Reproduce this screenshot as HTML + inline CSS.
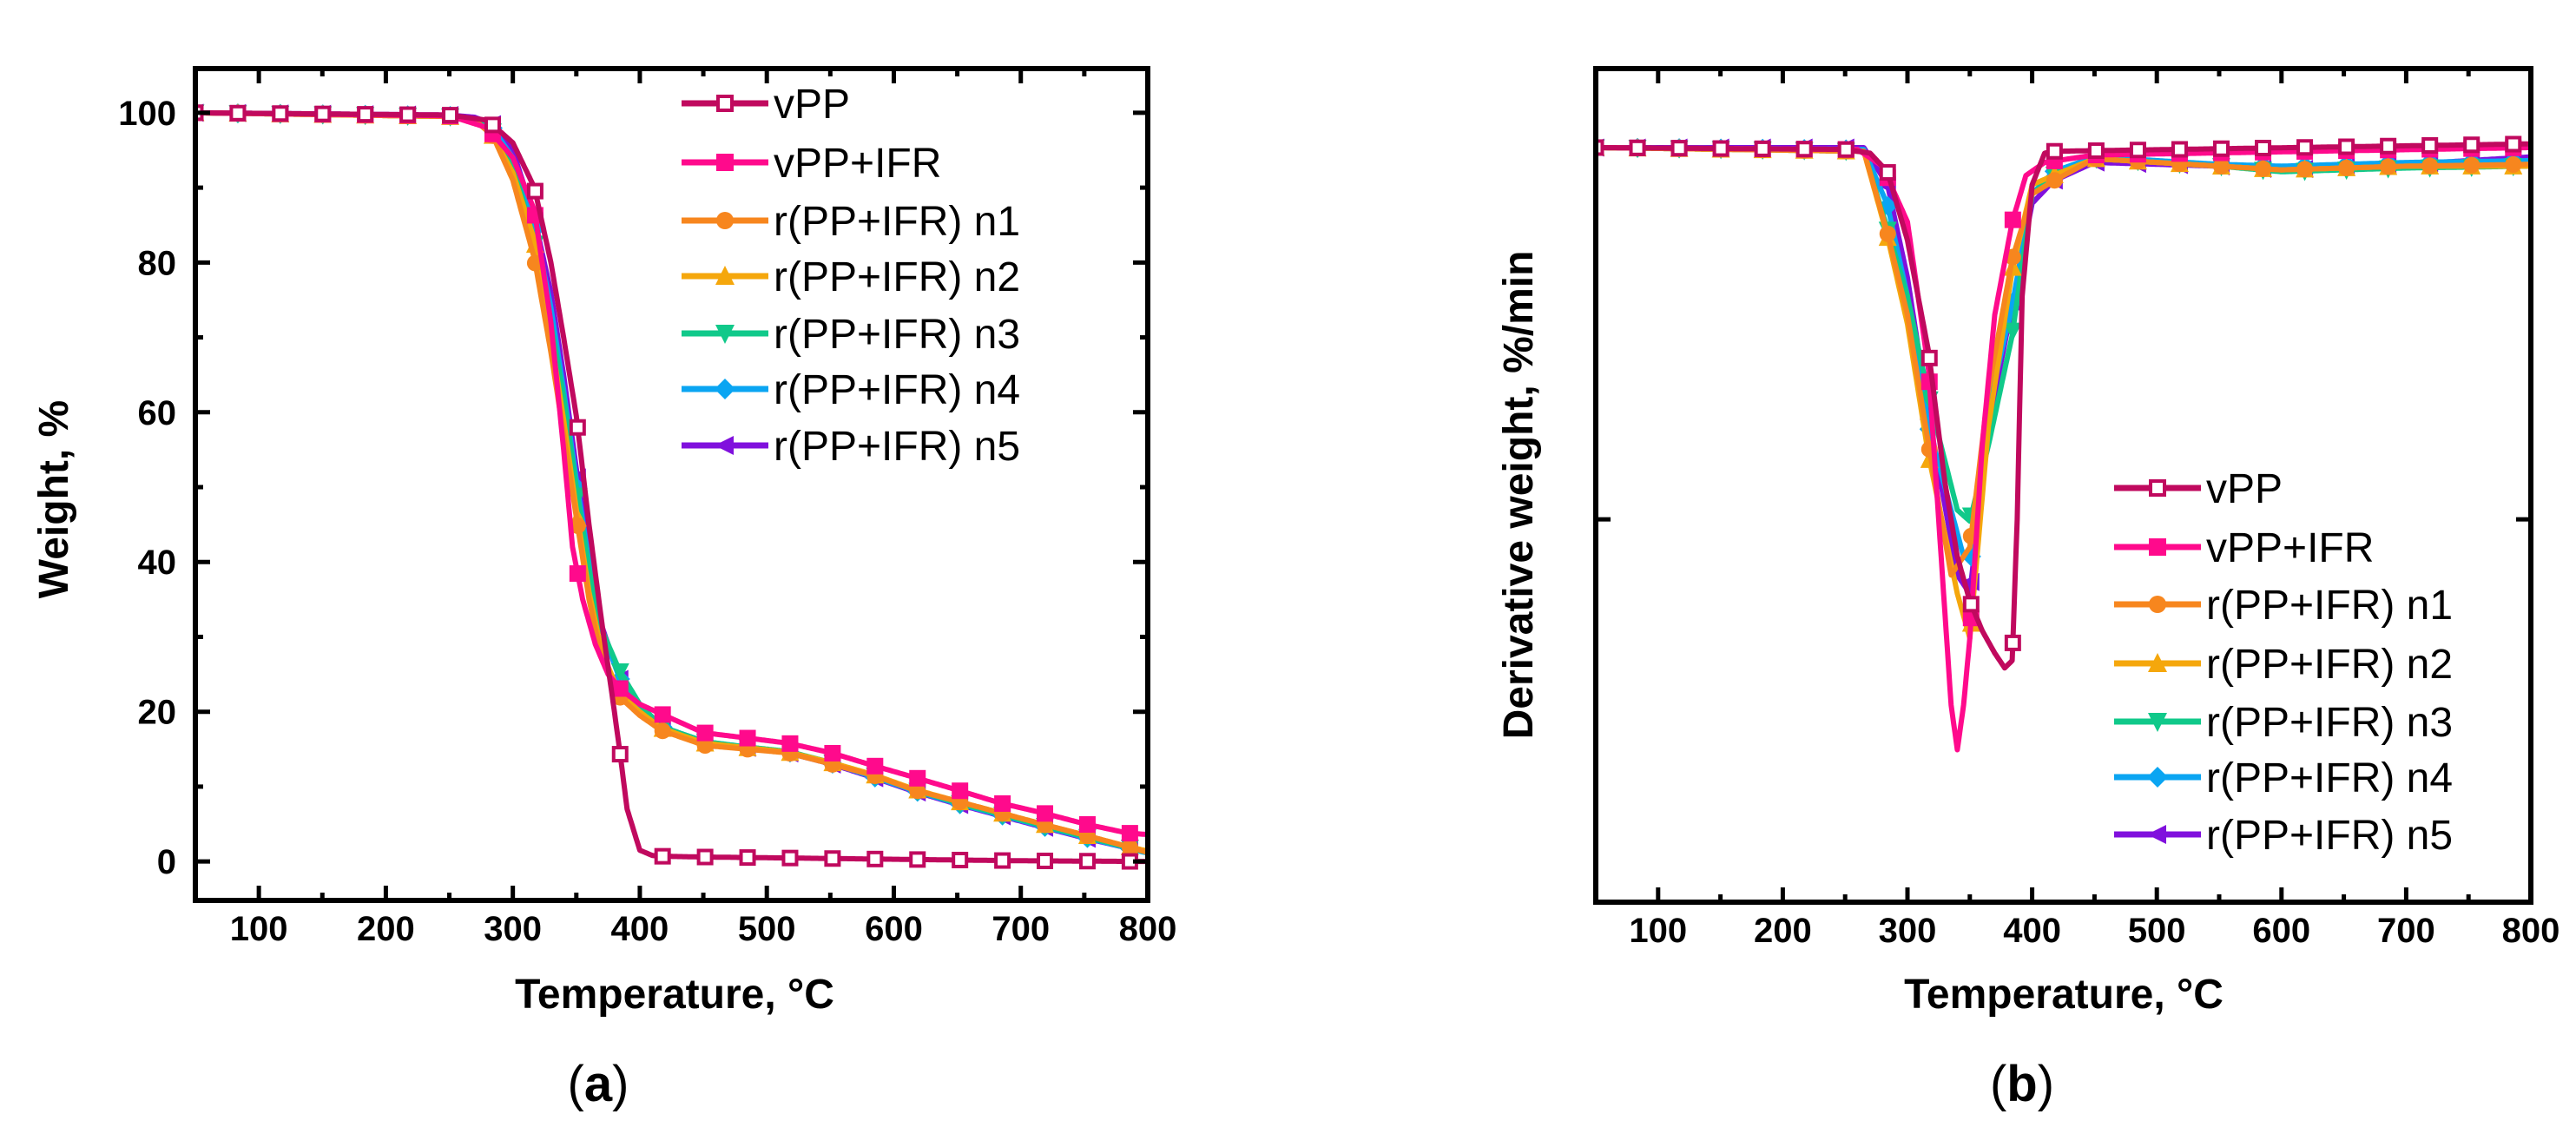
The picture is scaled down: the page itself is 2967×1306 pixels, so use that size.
<!DOCTYPE html>
<html><head><meta charset="utf-8">
<style>
html,body{margin:0;padding:0;background:#fff;}
svg{display:block;}
text{font-family:"Liberation Sans",Arial,sans-serif;}
</style></head>
<body>
<svg id="fig" width="2967" height="1306" viewBox="0 0 2967 1306" xmlns="http://www.w3.org/2000/svg">
<rect width="2967" height="1306" fill="#fff"/>
</svg>
<script>
// ---------- data ----------
const seriesNames = ["vPP","vPP+IFR","r(PP+IFR) n1","r(PP+IFR) n2","r(PP+IFR) n3","r(PP+IFR) n4","r(PP+IFR) n5"];
const seriesColors = ["#C0095E","#FF0A8C","#F7861E","#F5A70C","#10C98A","#0AA5F2","#8010DD"];
const seriesMarkers = ["sq-open","sq","circle","tri-up","tri-down","diamond","tri-left"];
const xTicks = [100,200,300,400,500,600,700,800];
const yTicksA = [0,20,40,60,80,100];

// TGA (weight %) : temperature / value pairs
const tgaT0 = [50,250,280,300,317,330,340,350,360,370,380,384,390,400,410,417,450,500,600,700,800];
const tgaW0 = [100,99.7,99,96,90,80,70,59.5,45,32,20,15,7,1.5,0.8,0.7,0.6,0.5,0.3,0.1,0];
const tgaT1 = [50,250,280,300,317,330,340,347,355,365,375,385,400,417,450,484,517,551,584,617,651,684,717,751,784,800];
const tgaW1 = [100,99.6,98,94,87,72,55,42,35,29,25,23,21,19.7,17.2,16.5,15.8,14.5,12.8,11.2,9.5,7.8,6.5,5,3.8,3.6];
const tgaT2 = [50,250,270,284,300,317,330,340,350,360,370,384,400,417,451,484,517,551,584,617,651,684,717,751,784,800];
const tgaW2 = [100,99.5,99,97,91,80.5,68,57,46,35,27,22,19.5,17.5,15.5,15,14.5,13,11.5,9.5,8,6.5,5,3.5,2,1.2];
const tgaW3 = [100,99.5,99,97,92,83,70,59,47,36,28,22.5,20,17.8,15.8,15.2,14.6,13.2,11.6,9.6,8,6.5,5,3.5,2,1.4];
const tgaW4 = [100,99.5,99,97.5,93,83,72,62,50,39,31,25.5,21,18,16,15.3,14.7,13.2,11.5,9.5,7.8,6.3,4.8,3.3,1.9,1.2];
const tgaW5 = [100,99.6,99.2,98,94,85,74,63,51,40,31,24.5,20.5,18,16,15.3,14.6,13.1,11.3,9.4,7.7,6.2,4.7,3.2,1.8,1.1];
const tgaW6 = [100,99.7,99.4,98.5,95,86,76,65,52.5,41,31.5,24.5,20.5,18,16,15.2,14.5,13,11.2,9.3,7.6,6.1,4.6,3.1,1.8,1.2];

// DTG (derivative weight, arbitrary) : temperature / value pairs
const dtgT0 = [50,250,270,284,300,317,330,340,350,360,370,378,384,388,392,400,410,417,800];
const dtgV0 = [0,-0.1,-0.3,-1.3,-5,-11,-18,-22,-24.4,-26,-27.2,-28,-27.6,-20,-8,-2,-0.3,-0.2,0.2];
const dtgT1 = [50,260,280,300,317,327,335,340,345,350,360,370,384,395,410,450,800];
const dtgV1 = [0,-0.1,-1,-4,-12,-22,-30,-32.4,-30,-26.4,-16,-9,-4,-1.5,-0.8,-0.4,0];
const dtgT2 = [50,265,284,300,317,335,350,365,384,400,417,450,550,600,700,800];
const dtgV2 = [0,-0.2,-4.6,-9,-16,-23,-21.5,-13,-6,-2.5,-1.8,-0.6,-1,-1.2,-1,-0.9];
const dtgT3 = [50,265,284,300,317,340,350,365,384,400,417,450,550,600,700,800];
const dtgV3 = [0,-0.2,-4.8,-9.5,-16.6,-24,-26.4,-15,-6.6,-2,-1.5,-0.6,-1,-1.2,-1,-1];
const dtgT4 = [50,265,284,300,317,340,350,365,384,400,417,450,550,600,700,800];
const dtgV4 = [0,-0.2,-4.4,-8,-13.4,-19.5,-20.1,-16,-10.1,-2.5,-1.5,-0.6,-1,-1.3,-1.1,-1];
const dtgT5 = [50,265,284,300,317,345,352,365,384,400,417,450,550,600,700,800];
const dtgV5 = [0,-0.1,-3.1,-8,-15,-22,-22,-14,-8.5,-2.5,-1.3,-0.5,-0.9,-1,-0.8,-0.7];
const dtgT6 = [50,265,284,300,317,340,350,365,384,400,417,450,550,600,700,800];
const dtgV6 = [0,0,-2,-7,-14.4,-23,-24,-15,-8.5,-3,-1.8,-0.8,-1,-1.2,-0.9,-0.5];

const tgaSets = [[tgaT0,tgaW0],[tgaT1,tgaW1],[tgaT2,tgaW2],[tgaT2,tgaW3],[tgaT2,tgaW4],[tgaT2,tgaW5],[tgaT2,tgaW6]];
const dtgSets = [[dtgT0,dtgV0],[dtgT1,dtgV1],[dtgT2,dtgV2],[dtgT3,dtgV3],[dtgT4,dtgV4],[dtgT5,dtgV5],[dtgT6,dtgV6]];

// ---------- helpers ----------
const NS = "http://www.w3.org/2000/svg";
const svg = document.getElementById("fig");
function mk(tag, attrs, parent){
  const e = document.createElementNS(NS, tag);
  for (const k in attrs) e.setAttribute(k, attrs[k]);
  (parent||svg).appendChild(e);
  return e;
}
function interp(T, V, t){
  if (t <= T[0]) return V[0];
  for (let i=1;i<T.length;i++){
    if (t <= T[i]){ const f=(t-T[i-1])/(T[i]-T[i-1]); return V[i-1]+f*(V[i]-V[i-1]); }
  }
  return V[V.length-1];
}
function marker(g, type, cx, cy, color, s){
  const h = s/2; let e;
  if (type==="sq-open") e = mk("rect",{x:cx-h+2,y:cy-h+2,width:s-4,height:s-4,fill:"#fff",stroke:color,"stroke-width":4},g);
  else if (type==="sq") e = mk("rect",{x:cx-h,y:cy-h,width:s,height:s,fill:color},g);
  else if (type==="circle") e = mk("circle",{cx:cx,cy:cy,r:h,fill:color},g);
  else if (type==="tri-up") e = mk("polygon",{points:`${cx},${cy-h-2} ${cx+h+1},${cy+h} ${cx-h-1},${cy+h}`,fill:color},g);
  else if (type==="tri-down") e = mk("polygon",{points:`${cx},${cy+h+2} ${cx+h+1},${cy-h} ${cx-h-1},${cy-h}`,fill:color},g);
  else if (type==="diamond") e = mk("polygon",{points:`${cx},${cy-h-2} ${cx+h+2},${cy} ${cx},${cy+h+2} ${cx-h-2},${cy}`,fill:color},g);
  else e = mk("polygon",{points:`${cx-h-2},${cy} ${cx+h},${cy-h-1} ${cx+h},${cy+h+1}`,fill:color},g);
  
  
  return e;
}

function drawPanel(p){
  const {L,R,T,B,xmin,xmax,ymin,ymax,sets,yTicks,yMinor,yTitle,yTitleX,yTitleY,panel,legendX,legendYs,titleX,labelX} = p;
  const sx = v => L + (v-xmin)/(xmax-xmin)*(R-L);
  const sy = v => B - (v-ymin)/(ymax-ymin)*(B-T);
  const root = mk("g",{});
  
  
  const cp = mk("clipPath",{id:"clip"+panel},root);
  mk("rect",{x:L,y:T,width:R-L,height:B-T},cp);
  const order = [6,5,4,3,2,1,0];
  order.forEach(i=>{
    const g = mk("g",{"clip-path":`url(#clip${panel})`},root);
    
    
    const [TT,VV] = sets[i];
    let d = "";
    for (let t=xmin; t<=xmax; t+=1){ d += (d?" L":"M")+sx(t).toFixed(1)+" "+sy(interp(TT,VV,t)).toFixed(1); }
    const path = mk("path",{d:d,fill:"none",stroke:seriesColors[i],"stroke-width":6,"stroke-linejoin":"round"},g);
    
    
    for (let k=0;k<=22;k++){
      const t = 50 + k*33.45;
      marker(g, seriesMarkers[i], sx(t), sy(interp(TT,VV,t)), seriesColors[i], 19);
    }
  });
  const frame = mk("rect",{x:L,y:T,width:R-L,height:B-T,fill:"none",stroke:"#000","stroke-width":6},root);
  
  
  for (let v=50; v<=800; v+=50){
    const major = v%100===0; const len = major?17:9; const x = sx(v);
    mk("line",{x1:x,y1:B,x2:x,y2:B-len,stroke:"#000","stroke-width":5},root);
    mk("line",{x1:x,y1:T,x2:x,y2:T+len,stroke:"#000","stroke-width":5},root);
  }
  xTicks.forEach(v=>{
    const t = mk("text",{x:sx(v),y:B+46,"text-anchor":"middle","font-size":40,"font-weight":"bold"},root);
    t.textContent = v;
    
    
  });
  yTicks.forEach(v=>{
    const y = sy(v);
    mk("line",{x1:L,y1:y,x2:L+17,y2:y,stroke:"#000","stroke-width":5},root);
    mk("line",{x1:R,y1:y,x2:R-17,y2:y,stroke:"#000","stroke-width":5},root);
    if (p.yLabels){
      const t = mk("text",{x:L-22,y:y+14,"text-anchor":"end","font-size":40,"font-weight":"bold"},root);
      t.textContent = v;
      
      
    }
  });
  yMinor.forEach(v=>{
    const y = sy(v);
    mk("line",{x1:L,y1:y,x2:L+9,y2:y,stroke:"#000","stroke-width":5},root);
    mk("line",{x1:R,y1:y,x2:R-9,y2:y,stroke:"#000","stroke-width":5},root);
  });
  const xt = mk("text",{x:titleX,y:1161,"text-anchor":"middle","font-size":48,"font-weight":"bold"},root);
  xt.textContent = "Temperature, °C";
  
  
  const yt = mk("text",{x:0,y:0,"text-anchor":"middle","font-size":48,"font-weight":"bold",transform:`translate(${yTitleX},${yTitleY}) rotate(-90)`},root);
  yt.textContent = yTitle;
  
  
  const pl = mk("text",{x:labelX,y:1268,"text-anchor":"middle","font-size":58,"font-family":"Liberation Serif, serif"},root);
  pl.innerHTML = '(<tspan font-weight="bold">'+panel+'</tspan>)';
  
  
  const lg = mk("g",{},root);
  
  
  seriesNames.forEach((n,i)=>{
    const y = legendYs[i];
    const eg = mk("g",{},lg);
    
    
    mk("line",{x1:legendX,y1:y,x2:legendX+100,y2:y,stroke:seriesColors[i],"stroke-width":7},eg);
    marker(eg, seriesMarkers[i], legendX+50, y, seriesColors[i], 20);
    const t = mk("text",{x:legendX+106,y:y+17,"font-size":48},eg);
    t.textContent = n;
  });
}

drawPanel({L:225,R:1322,T:79,B:1037,xmin:50,xmax:800,ymin:-5.2,ymax:105.9,sets:tgaSets,
  yTicks:yTicksA,yMinor:[10,30,50,70,90],yLabels:true,yTitle:"Weight, %",yTitleX:78,yTitleY:575,panel:"a",
  legendX:785,legendYs:[119,187,254,318,384,448,513],titleX:777,labelX:689});
drawPanel({L:1838,R:2915,T:79,B:1039,xmin:50,xmax:800,ymin:-40.6,ymax:4.25,sets:dtgSets,
  yTicks:[-20],yMinor:[],yLabels:false,yTitle:"Derivative weight, %/min",yTitleX:1765,yTitleY:570,panel:"b",
  legendX:2435,legendYs:[562,630,696,764,831,895,961],titleX:2377,labelX:2329});
</script>
</body></html>
